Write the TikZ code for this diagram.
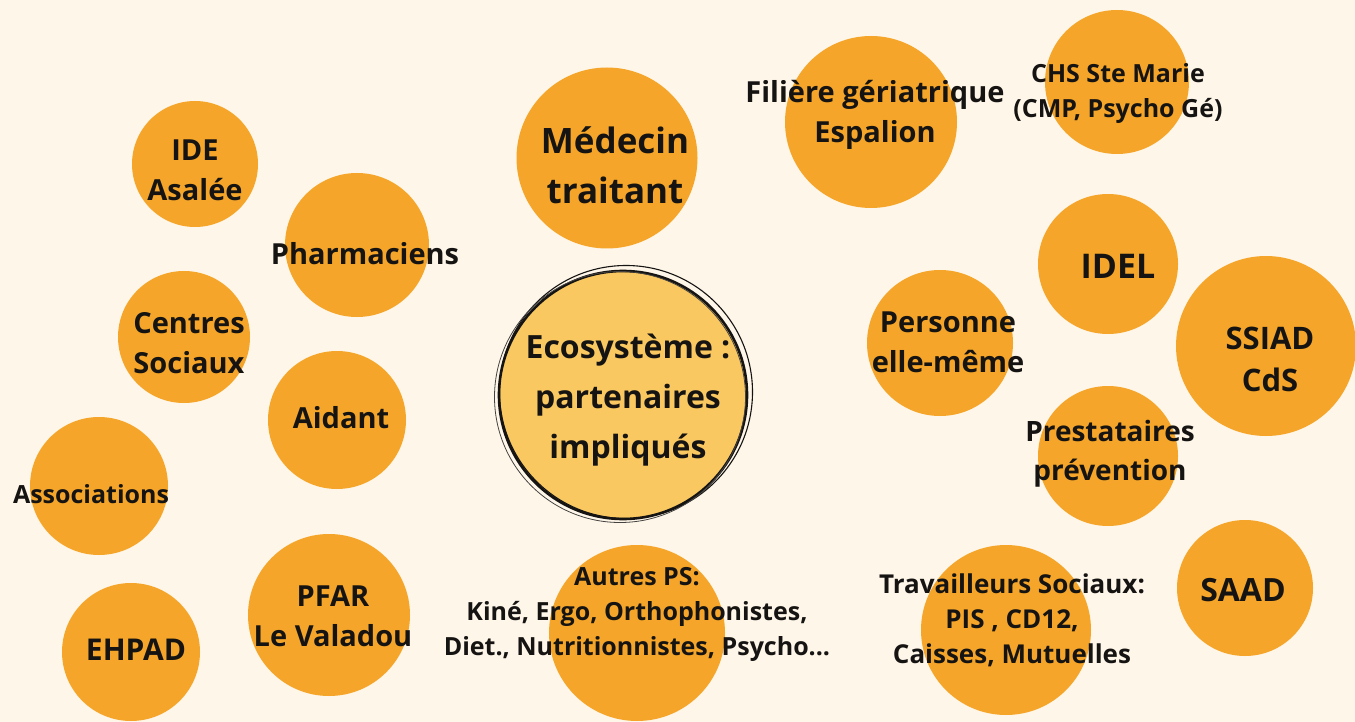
\documentclass[tikz,border=0pt]{standalone}
\usepackage{fontspec}
\setmainfont{Open Sans}
\usepackage{tikz}
\definecolor{bgCream}{RGB}{254,246,233}
\definecolor{blobOrange}{RGB}{245,166,42}
\definecolor{coreYellow}{RGB}{249,200,96}
\definecolor{inkBlack}{RGB}{22,20,18}

\begin{document}
\begin{tikzpicture}[x=1pt,y=-1pt,
    blob/.style={circle,fill=blobOrange,inner sep=0pt},
    lbl/.style={align=center,text=inkBlack,font=\bfseries\fontsize{29}{40}\selectfont},
    lblbig/.style={align=center,text=inkBlack,font=\bfseries\fontsize{32}{50}\selectfont},
    lblsmall/.style={align=center,text=inkBlack,font=\bfseries\fontsize{25}{35}\selectfont}]
        \fill[bgCream] (0,0) rectangle (1355,722);
        \useasboundingbox (0,0) rectangle (1355,722);

        % left side
        \node[blob,minimum size=126pt] (ide) at (195,164) {};
        \node[blob,minimum size=144pt] (pharma) at (357,245) {};
        \node[blob,minimum size=132pt] (centres) at (184,337) {};
        \node[blob,minimum size=138pt] (aidant) at (337,420) {};
        \node[blob,minimum size=138pt] (assoc) at (99,486) {};
        \node[blob,minimum size=138pt] (ehpad) at (131,652) {};
        \node[blob,minimum size=162pt] (pfar) at (329,615) {};

        % top and bottom middle
        \begin{scope}
          \clip (480,67) rectangle (740,300);
          \node[blob,minimum size=181pt] (medecin) at (607,158) {};
        \end{scope}
        \node[blob,minimum size=176pt] (autres) at (637,633) {};

        % right side
        \node[blob,minimum size=172pt] (filiere) at (871,122) {};
        \node[blob,minimum size=144pt] (chs) at (1117,82) {};
        \node[blob,minimum size=140pt] (idel) at (1108,264) {};
        \node[blob,minimum size=146pt] (personne) at (940,343) {};
        \node[blob,minimum size=180pt] (ssiad) at (1266,346) {};
        \node[blob,minimum size=140pt] (presta) at (1108,456) {};
        \node[blob,minimum size=136pt] (saad) at (1245,588) {};
        \node[blob,minimum size=170pt] (travail) at (1006,630) {};

        % centre
        \node[circle,fill=coreYellow,draw=inkBlack,line width=2.6pt,minimum size=248pt] (eco) at (623,395) {};
        \draw[inkBlack,line width=1.1pt] (626,392) circle (126.5pt);
        \draw[inkBlack!80,line width=0.8pt] (620,397) circle (125.5pt);

        \node[lblbig] (ecoT) at (628,400) {Ecosystème :\\partenaires\\impliqués};
        \node[lblbig,font=\bfseries\fontsize{35}{50}\selectfont] (medecinT) at (615,165) {Médecin\\traitant};
        \node[lbl] (ideT) at (195,170) {IDE\\Asalée};
        \node[lbl] (pharmaT) at (365,254) {Pharmaciens};
        \node[lbl] (centresT) at (189,343) {Centres\\Sociaux};
        \node[lbl] (aidantT) at (341,418) {Aidant};
        \node[lblsmall] (assocT) at (91,494) {Associations};
        \node[lblbig,font=\bfseries\fontsize{30}{40}\selectfont] (ehpadT) at (136,650) {EHPAD};
        \node[lbl] (pfarT) at (333,616) {PFAR\\Le Valadou};
        \node[lblsmall] (autresT) at (637,614) {Autres PS:\\Kiné, Ergo, Orthophonistes,\\Diet., Nutritionnistes, Psycho...};
        \node[lbl] (filiereT) at (875,115) {Filière gériatrique\\Espalion};
        \node[lblsmall] (chsT) at (1118,94) {CHS Ste Marie\\(CMP, Psycho Gé)};
        \node[lblbig,font=\bfseries\fontsize{34}{40}\selectfont] (idelT) at (1118,266) {IDEL};
        \node[lbl] (personneT) at (948,342) {Personne\\elle-même};
        \node[lblbig,font=\bfseries\fontsize{31}{42}\selectfont] (ssiadT) at (1270,359) {SSIAD\\CdS};
        \node[lbl,font=\bfseries\fontsize{28}{39}\selectfont] (prestaT) at (1110,454) {Prestataires\\prévention};
        \node[lblbig] (saadT) at (1243,590) {SAAD};
        \node[lblsmall,font=\bfseries\fontsize{26}{35}\selectfont] (travailT) at (1012,620) {Travailleurs Sociaux:\\PIS , CD12,\\Caisses, Mutuelles};
      \end{tikzpicture}
\end{document}
